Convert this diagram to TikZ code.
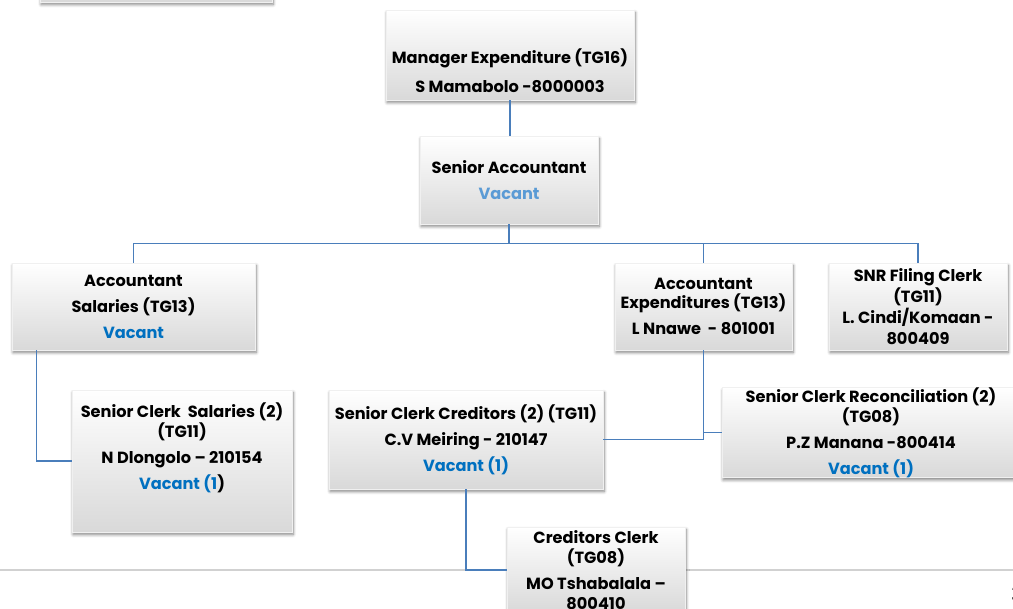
\documentclass[tikz,border=0pt]{standalone}
\usepackage{fontspec}
\setmainfont{Poppins}
\usetikzlibrary{positioning,shadows,shadows.blur}
\definecolor{linkblue}{HTML}{4A7EBB}
\definecolor{vacblue}{HTML}{0070C0}
\definecolor{vaclight}{HTML}{5B9BD5}
\newcommand{\vac}[1]{\textcolor{vacblue}{#1}}

\begin{document}
\begin{tikzpicture}[
  post/.style={rectangle,top color=white,bottom color=black!15,draw=black!6,
               blur shadow={shadow xshift=0.8pt,shadow yshift=-1.8pt,
                            shadow blur steps=6,shadow opacity=50},
               inner sep=0pt,align=center,
               font=\fontsize{11.5}{14}\selectfont\bfseries},
  link/.style={draw=linkblue,line width=0.8pt}
]
\useasboundingbox (0,0) rectangle (25.325,-15.225);

% footer rule of the slide, behind everything
\draw[black!18,line width=1.2pt] (0,-14.25) -- (25.325,-14.25);
\node[anchor=west,inner sep=0pt,font=\fontsize{16}{18}\selectfont] (pg) at (25.27,-14.85) {3};

% Top: manager and senior accountant
\node[post,minimum width=5.8cm,minimum height=1.1cm] (prev) at (3.9,0.5) {};
\node[post,minimum width=6.2cm,minimum height=2.25cm] (mgr) at (12.75,-1.375)
  {~\\[19pt]Manager Expenditure (TG16)\\[6.6pt]S Mamabolo -8000003};
\node[post,minimum width=4.45cm,minimum height=2.2cm] (sa) at (12.725,-4.5)
  {Senior Accountant\\[4.5pt]\textcolor{vaclight}{Vacant}};

% Row 2: accountants and filing clerk
\node[post,minimum width=6.075cm,minimum height=2.175cm] (as) at (3.3375,-7.6625)
  {Accountant\\[4.5pt]Salaries (TG13)\\[4.5pt]\vac{Vacant}};
\node[post,minimum width=4.425cm,minimum height=2.175cm] (ae) at (17.5875,-7.6625)
  {Accountant\\Expenditures (TG13)\\[4.5pt]L Nnawe~ - 801001};
\node[post,minimum width=4.45cm,minimum height=2.175cm] (snr) at (22.95,-7.6625)
  {SNR Filing Clerk\\[1pt](TG11)\\[1pt]L. Cindi/Komaan -\\[1pt]800409};

% Row 3: senior clerks
\node[post,minimum width=5.5cm,minimum height=3.55cm] (scs) at (4.55,-11.525)
  {Senior Clerk~~Salaries (2)\\(TG11)\\[4.5pt]N Dlongolo – 210154\\[4.5pt]\vac{Vacant (1})\\[7pt]~};
\node[post,minimum width=6.85cm,minimum height=2.475cm] (scc) at (11.65,-10.9875)
  {Senior Clerk Creditors (2) (TG11)\\[4.5pt]C.V Meiring - 210147\\[4.5pt]\vac{Vacant (1)}};
\node[post,minimum width=7.45cm,minimum height=2.225cm] (scr) at (21.775,-10.8125)
  {Senior Clerk Reconciliation (2)\\(TG08)\\[4.5pt]P.Z Manana -800414\\[4.5pt]\vac{Vacant (1)}};

% Row 4
\node[post,minimum width=4.45cm,minimum height=2.15cm] (cc) at (14.9,-14.25)
  {Creditors Clerk\\(TG08)\\[4.5pt]MO Tshabalala –\\800410};

% reporting lines
\draw[link] (mgr.south) -- (mgr.south |- sa.north);
\draw[link] (sa.south) -- ++(0,-0.475) -| (as.north);
\draw[link] (sa.south) -- ++(0,-0.475) -| (ae.north);
\draw[link] (sa.south) -- ++(0,-0.475) -| (snr.north);
\draw[link] ([xshift=0.625cm]as.south west) |- (scs.west);
\draw[link] (ae.south) |- (scc.east);
\draw[link] (ae.south) |- (scr.west);
\draw[link] (scc.south) |- (cc.west);

\end{tikzpicture}
\end{document}
